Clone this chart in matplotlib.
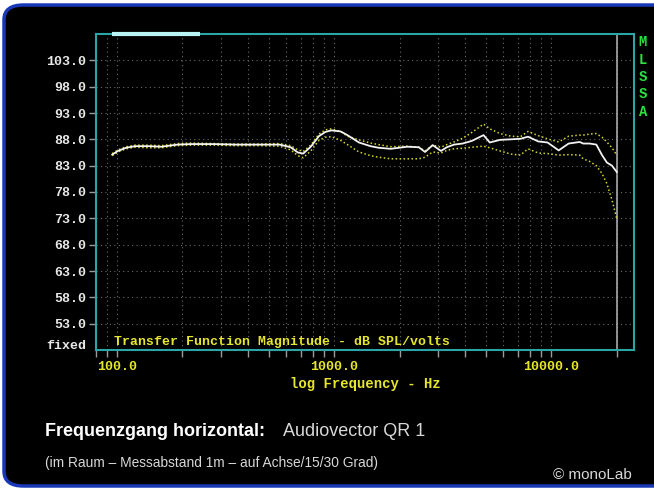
import matplotlib.pyplot as plt
import matplotlib.ticker as mticker
from matplotlib.patches import FancyBboxPatch

# Frequency axis (Hz) shared by all three measurements
freq = [95, 101, 110, 121, 140, 160, 190, 220, 280, 350, 450, 560, 630, 680,
        720, 780, 850, 910, 970, 1070, 1150, 1300, 1470, 1600, 1820, 2170,
        2450, 2620, 2840, 3100, 3300, 3560, 3900, 4300, 4870, 5200, 5800,
        6500, 7200, 7800, 8700, 9600, 10800, 12000, 13500, 14000, 15000,
        16100, 17100, 18000, 19000, 20000]

# SPL in dB (on axis, 15 deg, 30 deg)
spl_axis = [85.1, 85.8, 86.4, 86.7, 86.7, 86.6, 87.0, 87.1, 87.1, 87.0, 87.0,
            87.0, 86.5, 85.5, 85.3, 86.6, 88.6, 89.4, 89.7, 89.5, 88.8, 87.4,
            86.7, 86.4, 86.2, 86.6, 86.5, 85.6, 86.9, 85.8, 86.5, 87.0, 87.2,
            87.7, 88.8, 87.4, 87.9, 88.0, 88.1, 88.5, 87.6, 87.4, 85.9, 87.2,
            87.5, 87.2, 87.2, 87.0, 85.0, 83.6, 83.0, 81.8]
spl_15 = [85.3, 86.0, 86.6, 86.9, 86.9, 86.8, 87.2, 87.3, 87.2, 87.1, 87.1,
          87.2, 86.8, 86.0, 85.7, 86.9, 89.0, 89.8, 90.0, 89.5, 88.6, 87.9,
          87.3, 87.0, 86.6, 86.7, 86.5, 85.8, 86.9, 86.5, 87.0, 87.5, 88.2,
          89.3, 90.9, 90.0, 89.1, 88.6, 88.5, 89.5, 88.7, 88.1, 87.5, 88.6,
          88.8, 88.8, 89.0, 89.1, 88.4, 87.5, 86.4, 85.0]
spl_30 = [84.9, 85.6, 86.2, 86.5, 86.4, 86.4, 86.8, 86.9, 86.9, 86.8, 86.8,
          86.7, 86.0, 84.9, 84.5, 85.8, 87.8, 88.4, 88.5, 87.8, 87.0, 85.6,
          84.9, 84.6, 84.3, 84.3, 84.3, 84.6, 85.6, 85.4, 85.9, 86.2, 86.3,
          86.5, 86.7, 86.4, 85.8, 85.2, 85.0, 86.2, 85.4, 85.3, 85.0, 85.1,
          85.0, 84.3, 83.8, 83.0, 81.5, 79.6, 76.5, 72.9]

y_ticks = [53, 58, 63, 68, 73, 78, 83, 88, 93, 98, 103]
x_labels = {100: '100.0', 1000: '1000.0', 10000: '10000.0'}

MONO = ['Liberation Mono', 'DejaVu Sans Mono']
SANS = ['Liberation Sans', 'DejaVu Sans']
YELLOW = '#e6e62c'
DOTS = '#d6d624'
CYAN = '#2aa6a6'

fig = plt.figure(figsize=(6.54, 4.88), dpi=100)
fig.patch.set_facecolor('white')

# rounded black panel with blue border, kept behind the axes
panel = FancyBboxPatch((4 / 654, 2 / 488), 700 / 654, 481 / 488,
                       boxstyle='round,pad=0,rounding_size=0.03',
                       transform=fig.transFigure, facecolor='black',
                       edgecolor='#1838b8', linewidth=2.5, zorder=-5)
fig.patches.append(panel)

ax = fig.add_axes([96 / 654, 138 / 488, 538 / 654, 316 / 488])
ax.set_zorder(2)
ax.set_facecolor('black')
ax.set_xscale('log')
ax.set_xlim(80, 24000)
ax.set_ylim(48, 108)

ax.plot(freq, spl_15, color=DOTS, lw=1.1, ls=(0, (1, 1.6)), zorder=3)
ax.plot(freq, spl_30, color=DOTS, lw=1.1, ls=(0, (1, 1.6)), zorder=3)
ax.plot(freq, spl_axis, color='#f2f2f2', lw=1.3, zorder=4)

# end of measured range
ax.axvline(20000, color='#a8a8a8', lw=1.2, zorder=2)

for s in ax.spines.values():
    s.set_color(CYAN)
    s.set_linewidth(1.5)
ax.plot([0.03, 0.193], [1, 1], transform=ax.transAxes, color='#b8f4f4',
        lw=3, solid_capstyle='butt', clip_on=False, zorder=5)

ax.set_yticks(y_ticks)
ax.yaxis.set_major_formatter(mticker.FuncFormatter(lambda v, p: f'{v:.1f}'))
ax.xaxis.set_major_locator(mticker.FixedLocator(list(x_labels)))
ax.xaxis.set_major_formatter(mticker.FuncFormatter(lambda v, p: x_labels.get(int(round(v)), '')))
ax.xaxis.set_minor_locator(mticker.LogLocator(base=10, subs=range(2, 10), numticks=20))
ax.xaxis.set_minor_formatter(mticker.NullFormatter())

ax.tick_params(axis='y', colors='#9a9a9a', labelcolor='#e8e8e8', length=5,
               width=1, pad=2)
ax.tick_params(axis='x', which='both', colors='#9a9a9a', labelcolor=YELLOW,
               length=5, width=1, pad=3)
for lab in ax.get_yticklabels() + ax.get_xticklabels():
    lab.set_fontfamily(MONO)
    lab.set_fontweight('bold')
    lab.set_fontsize(9.5)

ax.grid(True, which='both', axis='x', color='#6a6a6a', lw=0.8, ls=(0, (1, 3)))
ax.grid(True, which='major', axis='y', color='#6a6a6a', lw=0.8, ls=(0, (1, 3)))

ax.set_xlabel('log Frequency - Hz', color=YELLOW, family=MONO,
              weight='bold', fontsize=10, labelpad=3)

ax.text(0.033, 0.025, 'Transfer Function Magnitude - dB SPL/volts',
        transform=ax.transAxes, color=YELLOW, family=MONO, weight='bold',
        fontsize=9.5, va='center')
fig.text(86 / 654, 1 - 346 / 488, 'fixed', color='#e8e8e8', family=MONO,
         weight='bold', fontsize=9.5, ha='right', va='center')
fig.text(643 / 654, 1 - 77 / 488, '\n'.join('MLSSA'), color='#2ee040',
         family=MONO, weight='bold', fontsize=10, ha='center', va='center',
         linespacing=1.3)

fig.text(45 / 654, 1 - 432 / 488, 'Frequenzgang horizontal:', color='white',
         family=SANS, weight='bold', fontsize=13, va='center')
fig.text(283 / 654, 1 - 432 / 488, 'Audiovector QR 1', color='#d8d8d8',
         family=SANS, fontsize=13, va='center')
fig.text(45 / 654, 1 - 463 / 488,
         '(im Raum \u2013 Messabstand 1m \u2013 auf Achse/15/30 Grad)',
         color='#d8d8d8', family=SANS, fontsize=9.9, va='center')
fig.text(632 / 654, 1 - 475 / 488, '\u00a9 monoLab', color='#d8d8d8',
         family=SANS, fontsize=11, ha='right', va='center')

fig.savefig('out.png', dpi=100, facecolor=fig.get_facecolor())
